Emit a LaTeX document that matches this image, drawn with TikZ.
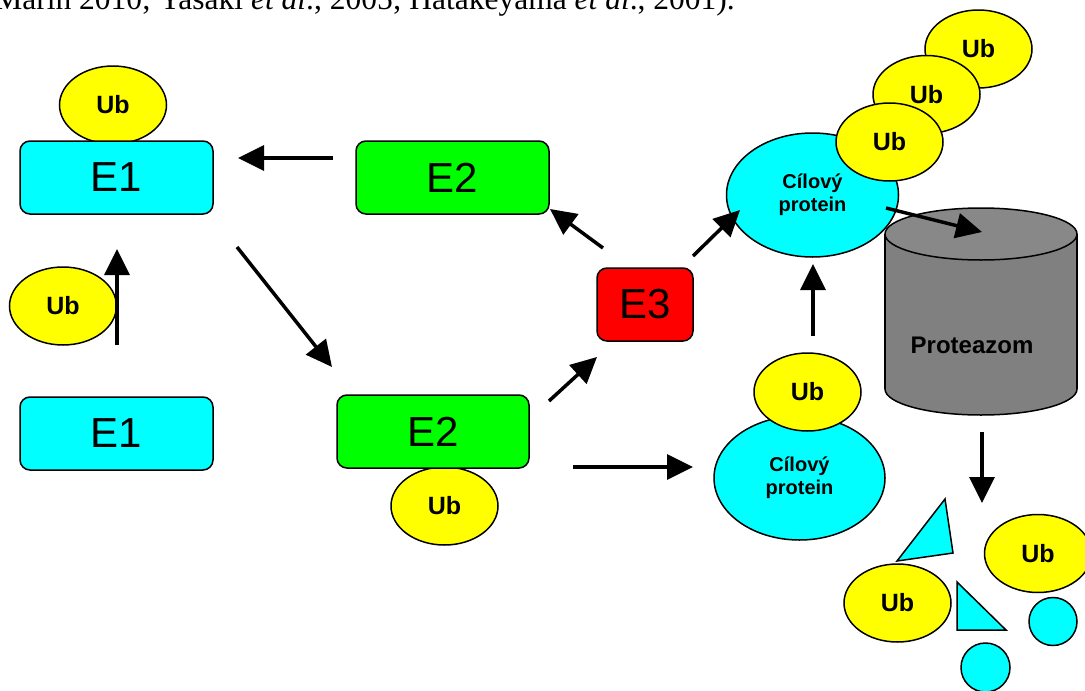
\documentclass[tikz,border=0pt]{standalone}
\usepackage{fontspec}
\setmainfont{Liberation Sans}
\newfontfamily\refserif{Liberation Serif}
\usetikzlibrary{shapes.geometric,arrows.meta}
\definecolor{cy}{HTML}{00FFFF}
\definecolor{yl}{HTML}{FFFF00}
\definecolor{gr}{HTML}{00FF00}
\definecolor{rd}{HTML}{FF0000}
\definecolor{cylside}{HTML}{808080}
\definecolor{cyltop}{HTML}{888888}
\begin{document}
\begin{tikzpicture}[x=1pt,y=-1pt,
  outl/.style={draw=black, line width=1.5pt},
  ebox/.style={outl, rounded corners=10pt, minimum width=193pt, minimum height=73pt, inner sep=0pt, font=\fontsize{42}{48}\selectfont},
  ubs/.style={outl, ellipse, fill=yl, minimum width=107pt, minimum height=78pt, inner sep=0pt, font=\bfseries\fontsize{25}{28}\selectfont},
  prot/.style={outl, ellipse, fill=cy, minimum width=172pt, minimum height=124pt, inner sep=0pt, align=center, font=\bfseries\fontsize{20}{23}\selectfont},
  frag/.style={outl, fill=cy},
  arr/.style={line width=3.5pt, -{Triangle[length=26pt,width=25pt]}},
]
\useasboundingbox (0,0) rectangle (1085,691);

% caption fragment at top
\node[anchor=base east, inner sep=0pt, font=\refserif\fontsize{31.5}{36}\selectfont] (cite) at (735,9.5)
  {Marin 2010; Yasaki \textit{et al}., 2005; Hatakeyama \textit{et al}., 2001).};

% E1 with Ub (top left)
\node[ubs] (ubA) at (113,105) {Ub};
\node[ebox, fill=cy] (e1a) at (116.5,177.5) {E1};

% free Ub and E1 (left)
\node[ubs] (ubB) at (63,306) {Ub};
\node[ebox, fill=cy] (e1b) at (116.5,433.5) {E1};

% E2 (top)
\node[ebox, fill=gr] (e2a) at (452.5,177.5) {E2};

% E2 with Ub (bottom)
\node[ubs] (ubC) at (444.5,506) {Ub};
\node[ebox, fill=gr, minimum width=192pt] (e2b) at (433,431.5) {E2};

% E3
\node[ebox, fill=rd, minimum width=96pt] (e3) at (645,304.5) {E3};

% proteasome cylinder
\filldraw[outl, fill=cylside] (981,389) ellipse [x radius=96, y radius=26];
\fill[cylside] (885,234) rectangle (1077,389);
\draw[outl] (885,234) -- (885,389) (1077,234) -- (1077,389);
\filldraw[outl, fill=cyltop] (981,234) ellipse [x radius=96, y radius=26];
\node[font=\bfseries\fontsize{24}{28}\selectfont] (prot) at (972,345) {Proteazom};

% target protein with Ub chain (top)
\node[prot] (tpA) at (812.5,195) {Cílový\\protein};
\node[ubs] (ubD3) at (978.5,49) {Ub};
\node[ubs] (ubD2) at (926.5,94.5) {Ub};
\node[ubs] (ubD1) at (889.5,142) {Ub};

% target protein with Ub (bottom)
\node[prot, minimum width=171pt] (tpB) at (799.5,478) {Cílový\\protein};
\node[ubs] (ubE) at (807.5,392) {Ub};

% degradation products
\filldraw[frag] (945,499) -- (953,553) -- (897,561) -- cycle;
\node[ubs] (ubF) at (897.5,603) {Ub};
\filldraw[frag] (957,582) -- (957,630) -- (1006,630) -- cycle;
\node[ubs] (ubG) at (1038,553.5) {Ub};
\node[outl, circle, fill=cy, minimum size=48pt, inner sep=0pt] (cA) at (1053,621.5) {};
\node[outl, circle, fill=cy, minimum size=49pt, inner sep=0pt] (cB) at (985.5,667.5) {};

% arrow end points
\coordinate (a1s) at (117,345);  \coordinate (a1e) at (117,249);
\coordinate (a2s) at (333,158);  \coordinate (a2e) at (238,158);
\coordinate (a3s) at (237,247);  \coordinate (a3e) at (332,367);
\coordinate (a4s) at (549,401);  \coordinate (a4e) at (597,357);
\coordinate (a5s) at (603,248);  \coordinate (a5e) at (550,209);
\coordinate (a6s) at (693,256);  \coordinate (a6e) at (740,210);
\coordinate (a7s) at (573,467);  \coordinate (a7e) at (693,467);
\coordinate (a8s) at (813,336);  \coordinate (a8e) at (813,264);
\coordinate (a9s) at (886,208);  \coordinate (a9e) at (982,232);
\coordinate (a10s) at (982,432); \coordinate (a10e) at (982,503);

\draw[arr] (a1s) -- (a1e);
\draw[arr] (a2s) -- (a2e);
\draw[arr] (a3s) -- (a3e);
\draw[arr] (a4s) -- (a4e);
\draw[arr] (a5s) -- (a5e);
\draw[arr] (a6s) -- (a6e);
\draw[arr] (a7s) -- (a7e);
\draw[arr] (a8s) -- (a8e);
\draw[arr] (a9s) -- (a9e);
\draw[arr] (a10s) -- (a10e);
\end{tikzpicture}
\end{document}
